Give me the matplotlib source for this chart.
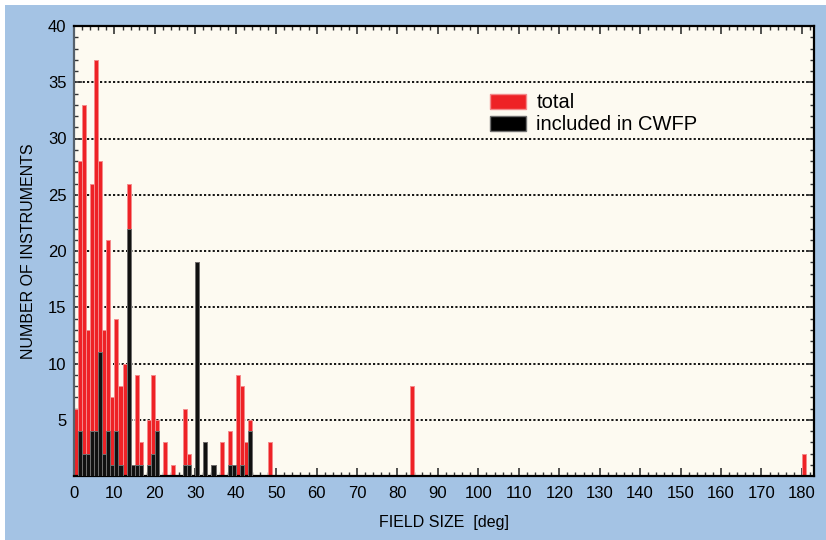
import matplotlib.pyplot as plt
from matplotlib.patches import Patch, Rectangle
from matplotlib.ticker import MultipleLocator

plt.rcParams['font.family'] = ['Liberation Sans', 'DejaVu Sans']

# instruments per field size (deg)
field_size = [0, 1, 2, 3, 4, 5, 6, 7, 8, 9, 10, 11, 12, 13, 14, 15, 16, 18, 19, 20,
              22, 24, 27, 28, 30, 32, 34, 36, 38, 39, 40, 41, 42, 43, 48, 83, 180]
total = [6, 28, 33, 13, 26, 37, 28, 13, 21, 7, 14, 8, 10, 26, 1, 9, 3, 5, 9, 5,
         3, 1, 6, 2, 19, 3, 1, 3, 4, 1, 9, 8, 3, 5, 3, 8, 2]
in_cwfp = [0, 4, 2, 2, 4, 4, 11, 2, 4, 1, 4, 1, 0, 22, 1, 1, 1, 1, 2, 4,
           0, 0, 1, 1, 19, 3, 1, 0, 1, 1, 0, 1, 0, 4, 0, 0, 0]

y_ticks = [0, 5, 10, 15, 20, 25, 30, 35, 40]
x_ticks = list(range(0, 181, 10))

red = '#EE2226'
red_edge = '#F48A8C'
blk = '#111111'
blk_edge = '#707070'

fig = plt.figure(figsize=(8.26, 5.40), dpi=100, facecolor='white')
fig.patches.append(Rectangle((5 / 826, 0), 1, 1 - 5 / 540, transform=fig.transFigure,
                             facecolor='#A4C3E4', edgecolor='none', zorder=-10))
ax = fig.add_axes([74 / 826, 1 - 476 / 540, 740 / 826, 450 / 540])
ax.set_facecolor('#FDFAF1')

# red = all instruments, black on top = the ones in CWFP
xs = [f for f, t in zip(field_size, total) if t > 0]
ts = [t for t in total if t > 0]
ax.bar(xs, ts, width=1, align='edge', color=red, edgecolor=red_edge, linewidth=0.7, zorder=2)
xc = [f for f, c in zip(field_size, in_cwfp) if c > 0]
cs = [c for c in in_cwfp if c > 0]
ax.bar(xc, cs, width=1, align='edge', color=blk, edgecolor=blk_edge, linewidth=0.7, zorder=3)

ax.set_xlim(0, 183)
ax.set_ylim(0, 40)
ax.set_xticks(x_ticks)
ax.set_yticks(y_ticks)
ax.set_yticklabels([''] + [str(v) for v in y_ticks[1:]])
ax.xaxis.set_minor_locator(MultipleLocator(2))
ax.yaxis.set_minor_locator(MultipleLocator(1))
ax.tick_params(which='both', direction='in', top=True, right=True, color='#333333')
ax.tick_params(which='major', length=6, width=1.2, labelsize=12)
ax.tick_params(which='minor', length=3, width=1)
ax.tick_params(axis='x', which='major', pad=7.5)
ax.tick_params(axis='y', which='major', pad=5.5)

ax.grid(axis='y', which='major', color='black', linewidth=1.3, linestyle=(0, (1.2, 1.2)))
ax.set_axisbelow(True)

for s in ax.spines.values():
    s.set_linewidth(1.6)
    s.set_color('black')
ax.spines['left'].set_color('#56616c')

ax.set_xlabel('FIELD SIZE  [deg]', fontsize=11.5, labelpad=10)
ax.set_ylabel('NUMBER OF INSTRUMENTS', fontsize=11.5, labelpad=8.5)

handles = [Patch(facecolor=red, edgecolor=red_edge, label='total'),
           Patch(facecolor='black', edgecolor=blk_edge, label='included in CWFP')]
ax.legend(handles=handles, loc='upper left', bbox_to_anchor=(0.5485, 0.873), frameon=False,
          fontsize=14.5, borderpad=0, handlelength=1.8, handleheight=0.8,
          handletextpad=0.5, labelspacing=0.15)

fig.savefig('out.png', dpi=100, facecolor=fig.get_facecolor())
